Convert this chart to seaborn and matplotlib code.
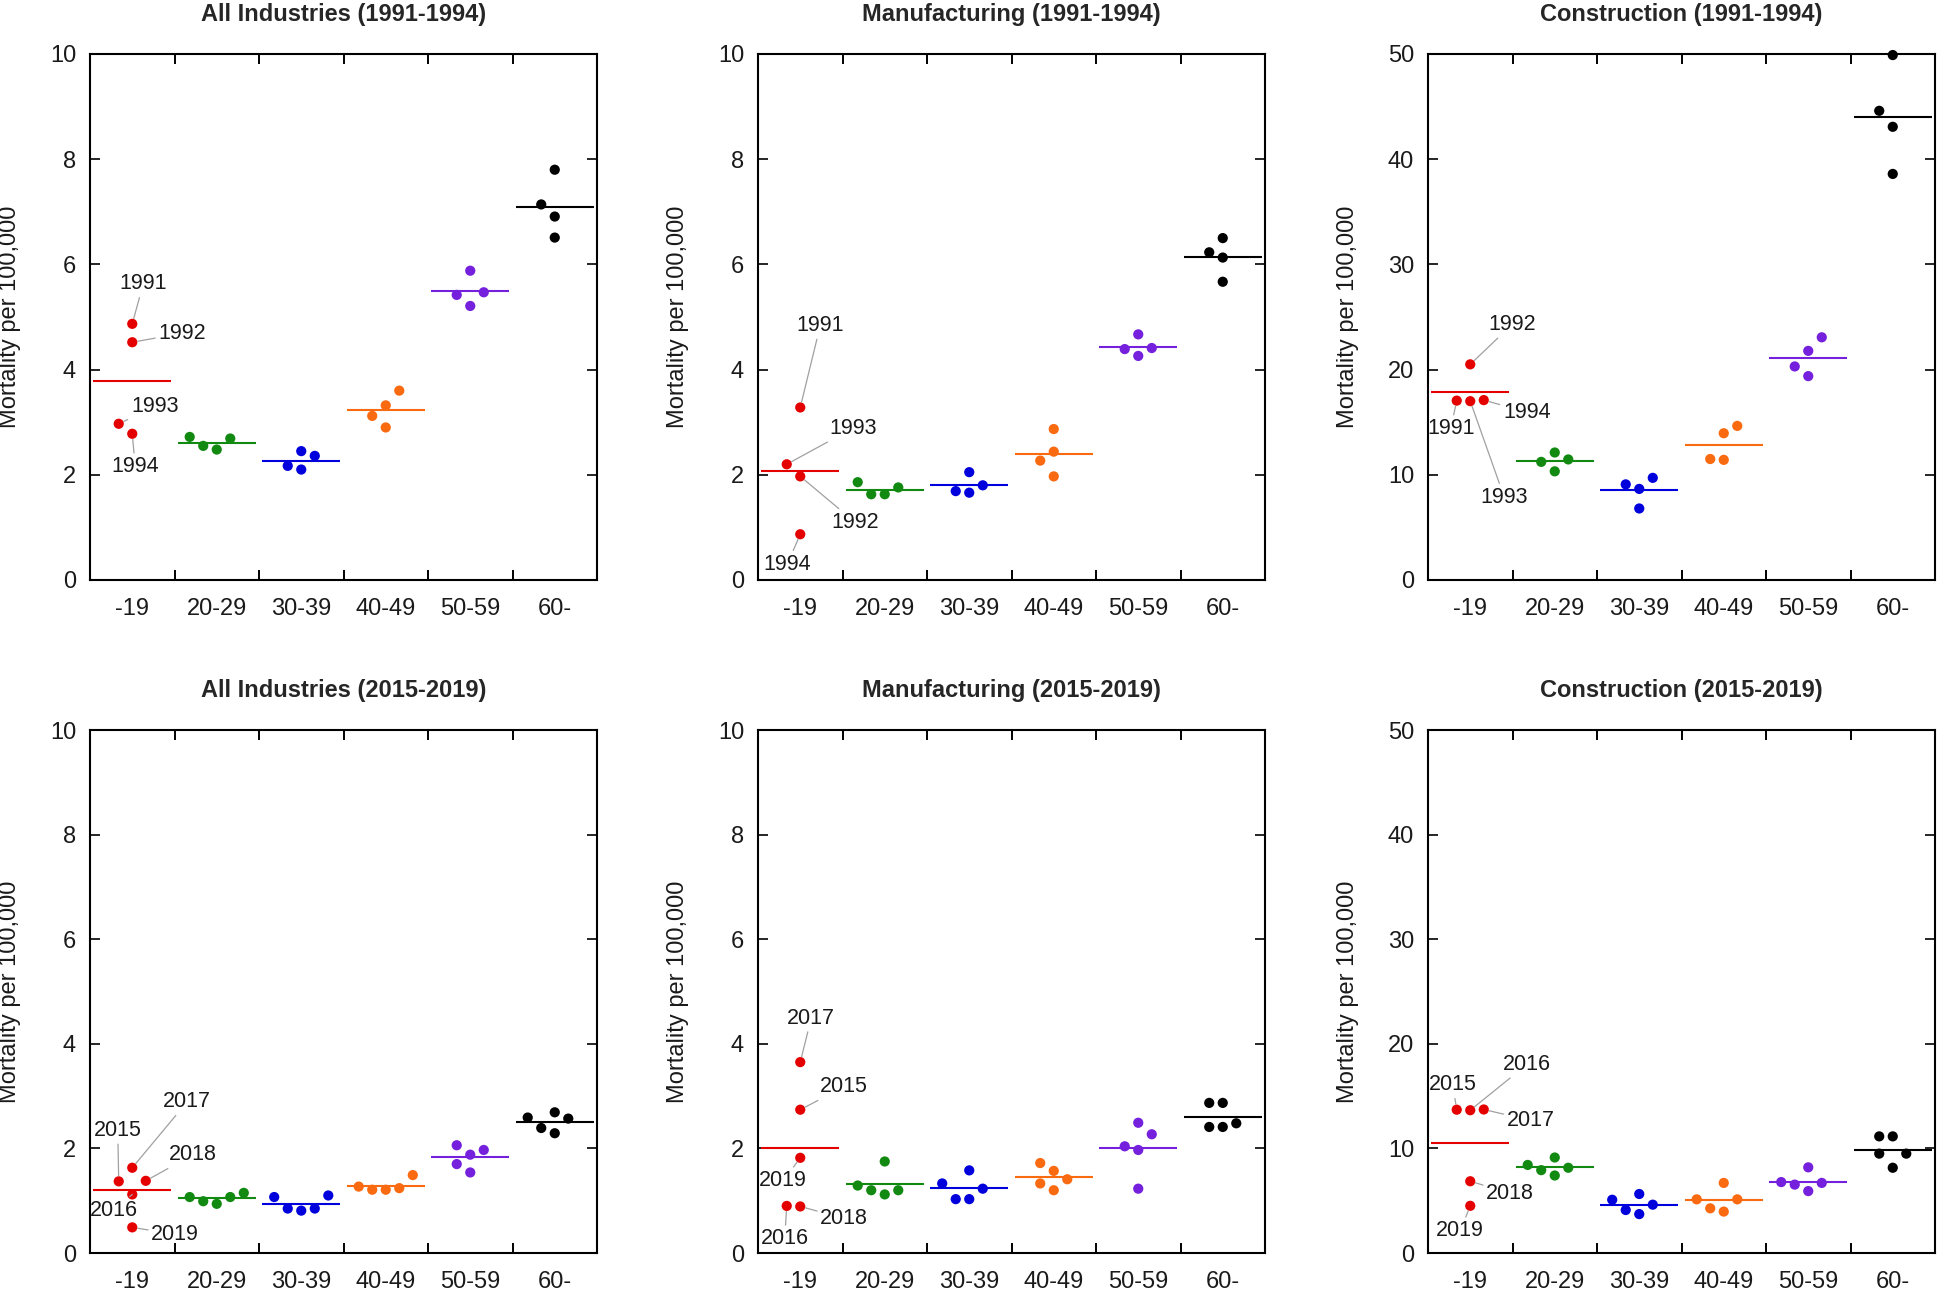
import numpy as np
import pandas as pd
import matplotlib
matplotlib.use('Agg')
import matplotlib.pyplot as plt
import seaborn as sns

AGE_GROUPS = ['-19', '20-29', '30-39', '40-49', '50-59', '60-']
YEARS_EARLY = [1991, 1992, 1993, 1994]
YEARS_LATE = [2015, 2016, 2017, 2018, 2019]

# mortality per 100,000, one row per age group, values in year order
ALL_EARLY = [
    [4.87, 4.52, 2.97, 2.78],
    [2.72, 2.55, 2.48, 2.69],
    [2.17, 2.45, 2.10, 2.36],
    [3.12, 3.32, 2.90, 3.60],
    [5.42, 5.88, 5.21, 5.47],
    [7.14, 7.80, 6.91, 6.51],
]
MFG_EARLY = [
    [3.28, 1.97, 2.20, 0.87],
    [1.86, 1.63, 1.63, 1.76],
    [1.69, 2.05, 1.66, 1.80],
    [2.27, 2.87, 2.44, 1.97],
    [4.39, 4.67, 4.26, 4.41],
    [6.23, 6.50, 6.13, 5.67],
]
CON_EARLY = [
    [17.05, 20.5, 17.0, 17.1],
    [11.23, 12.12, 10.33, 11.46],
    [9.09, 8.66, 6.80, 9.71],
    [11.5, 13.95, 11.42, 14.65],
    [20.3, 21.78, 19.38, 23.07],
    [44.6, 49.9, 43.08, 38.6],
]
ALL_LATE = [
    [1.37, 1.12, 1.63, 1.38, 0.49],
    [1.07, 0.99, 0.94, 1.07, 1.15],
    [1.07, 0.85, 0.81, 0.85, 1.10],
    [1.27, 1.21, 1.21, 1.24, 1.49],
    [2.06, 1.70, 1.88, 1.54, 1.97],
    [2.59, 2.39, 2.69, 2.29, 2.57],
]
MFG_LATE = [
    [2.74, 0.90, 3.65, 0.89, 1.82],
    [1.29, 1.20, 1.75, 1.12, 1.20],
    [1.33, 1.03, 1.58, 1.03, 1.23],
    [1.72, 1.33, 1.57, 1.20, 1.41],
    [2.04, 2.49, 1.97, 1.23, 2.27],
    [2.87, 2.41, 2.87, 2.41, 2.48],
]
CON_LATE = [
    [13.7, 13.65, 13.72, 6.86, 4.51],
    [8.42, 7.92, 9.13, 7.41, 8.15],
    [5.09, 4.11, 5.64, 3.72, 4.62],
    [5.13, 4.27, 6.70, 3.96, 5.13],
    [6.78, 6.54, 8.19, 5.92, 6.70],
    [11.15, 9.5, 11.15, 8.15, 9.5],
]

PALETTE = {
    '-19': '#e50000',
    '20-29': '#128a12',
    '30-39': '#0000dc',
    '40-49': '#fa6a10',
    '50-59': '#7420dc',
    '60-': '#000000',
}

# year label placement for the -19 group: text centre offset from the point (pixels, right / down)
LABELS_ALL_EARLY = {1991: (11, -40), 1992: (50, -9), 1993: (36, -17), 1994: (3, 33)}
LABELS_MFG_EARLY = {1991: (20, -82), 1993: (66, -36), 1992: (55, 46), 1994: (-13, 30)}
LABELS_CON_EARLY = {1992: (42, -40), 1991: (-6, 28), 1994: (43, 12), 1993: (34, 96)}
LABELS_ALL_LATE = {2015: (-1, -51), 2017: (55, -66), 2018: (47, -26), 2016: (-18, 16), 2019: (43, 7)}
LABELS_MFG_LATE = {2017: (11, -44), 2015: (44, -23), 2019: (-17, 23), 2016: (-2, 33), 2018: (44, 12)}
LABELS_CON_LATE = {2015: (-4, -25), 2016: (57, -46), 2017: (47, 11), 2018: (40, 12), 2019: (-10, 25)}

SLOT = 0.16       # horizontal step between side-by-side dots (category units)
HALF_LINE = 0.46  # half width of the mean line


def swarm_slots(values, tol):
    """Grid beeswarm: lowest first, collide -> step out, alternating sides."""
    values = np.asarray(values, dtype=float)
    order = np.argsort(values, kind='stable')
    slots = np.zeros(len(values), dtype=int)
    placed = []
    side = -1
    for i in order:
        v = values[i]
        cands = [0]
        for k in range(1, len(values) + 1):
            cands += [side * k, -side * k]
        for s in cands:
            if all(abs(v - pv) >= tol for pv, ps in placed if ps == s):
                break
        if s != 0:
            side = -int(np.sign(s))
        slots[i] = s
        placed.append((v, s))
    return slots


def draw_panel(fig, pos, title, values, years, ymax, labels):
    ax = fig.add_axes(pos)
    rows = []
    for gi, (age, vals) in enumerate(zip(AGE_GROUPS, values)):
        slots = swarm_slots(vals, 0.032 * ymax)
        for yr, v, s in zip(years, vals, slots):
            rows.append({'age': age, 'year': yr, 'value': v, 'x': gi + s * SLOT})
    df = pd.DataFrame(rows)

    means = df.groupby('age', sort=False)['value'].mean()
    for gi, age in enumerate(AGE_GROUPS):
        ax.hlines(means[age], gi - HALF_LINE, gi + HALF_LINE,
                  color=PALETTE[age], lw=1.5, zorder=2)

    sns.scatterplot(data=df, x='x', y='value', hue='age', palette=PALETTE,
                    s=54, linewidth=0, legend=False, ax=ax, zorder=3, clip_on=False)

    young = df[df['age'] == AGE_GROUPS[0]]
    for _, r in young.iterrows():
        dx, dy = labels[int(r['year'])]
        ax.annotate(str(int(r['year'])), xy=(r['x'], r['value']), xytext=(dx, -dy),
                    textcoords='offset pixels', ha='center', va='center',
                    fontsize=15.5, color='#1a1a1a',
                    arrowprops=dict(arrowstyle='-', color='#a0a0a0', lw=0.9,
                                    shrinkA=0, shrinkB=4))

    ax.set_xlim(-0.5, len(AGE_GROUPS) - 0.5)
    ax.set_ylim(0, ymax)
    ax.set_yticks(np.linspace(0, ymax, 6))
    ax.set_xticks(range(len(AGE_GROUPS)))
    ax.set_xticklabels(AGE_GROUPS)
    ax.set_xticks(np.arange(0.5, len(AGE_GROUPS) - 1, 1.0), minor=True)
    ax.tick_params(axis='x', which='major', length=0, pad=13, labelsize=17, colors='#1a1a1a')
    ax.tick_params(axis='x', which='minor', direction='in', length=7, width=1.4,
                   top=True, bottom=True, color='black')
    ax.tick_params(axis='y', which='major', direction='in', length=7, width=1.4,
                   left=True, right=True, pad=10, labelsize=17, labelcolor='#1a1a1a')
    for sp in ax.spines.values():
        sp.set_visible(True)
        sp.set_linewidth(1.5)
        sp.set_color('black')
    ax.set_xlabel('')
    ax.set_ylabel('Mortality per 100,000', fontsize=17, color='#1a1a1a')
    ax.yaxis.set_label_coords(-0.137, 0.5)
    ax.set_title(title, fontsize=17, fontweight='bold', pad=24)
    ax.grid(False)
    return ax


sns.set_theme(style='white')
plt.rcParams['font.family'] = ['Liberation Sans', 'DejaVu Sans']

fig = plt.figure(figsize=(19.44, 12.97), dpi=100)

W, H = 1944, 1297
lefts = [90, 758, 1428]
width = 507
tops = [(54, 580), (730, 1253)]


def rect(col, row):
    t, b = tops[row]
    return [lefts[col] / W, 1 - b / H, width / W, (b - t) / H]


draw_panel(fig, rect(0, 0), 'All Industries (1991-1994)', ALL_EARLY, YEARS_EARLY, 10, LABELS_ALL_EARLY)
draw_panel(fig, rect(1, 0), 'Manufacturing (1991-1994)', MFG_EARLY, YEARS_EARLY, 10, LABELS_MFG_EARLY)
draw_panel(fig, rect(2, 0), 'Construction (1991-1994)', CON_EARLY, YEARS_EARLY, 50, LABELS_CON_EARLY)
draw_panel(fig, rect(0, 1), 'All Industries (2015-2019)', ALL_LATE, YEARS_LATE, 10, LABELS_ALL_LATE)
draw_panel(fig, rect(1, 1), 'Manufacturing (2015-2019)', MFG_LATE, YEARS_LATE, 10, LABELS_MFG_LATE)
draw_panel(fig, rect(2, 1), 'Construction (2015-2019)', CON_LATE, YEARS_LATE, 50, LABELS_CON_LATE)

fig.savefig('out.png', dpi=100, facecolor='white')
